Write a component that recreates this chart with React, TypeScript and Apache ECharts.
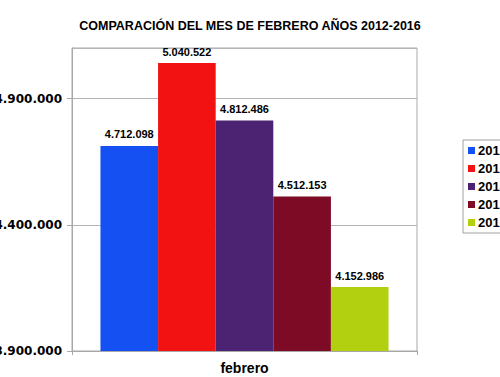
import React, { useEffect, useRef } from "react";
import * as echarts from "echarts";

const titleText = "COMPARACIÓN DEL MES DE FEBRERO AÑOS 2012-2016";
const categories = ["febrero"];
const years = ["2012", "2013", "2014", "2015", "2016"];
const values = [4712098, 5040522, 4812486, 4512153, 4152986];
const colors = ["#1450f2", "#f21212", "#4c2272", "#7e0b26", "#b2cf10"];

function fmt(v: number): string {
  return Math.round(v)
    .toString()
    .replace(/\B(?=(\d{3})+(?!\d))/g, ".");
}

export default function App() {
  const ref = useRef<HTMLDivElement>(null);
  useEffect(() => {
    if (!ref.current) return;
    const chart = echarts.init(ref.current, null, { renderer: "svg" });
    chart.setOption({
      animation: false,
      backgroundColor: "#ffffff",
      title: {
        text: titleText,
        left: "center",
        top: 14,
        textStyle: {
          fontFamily: "Liberation Sans, Arial, sans-serif",
          fontSize: 12.5,
          fontWeight: "bold",
          color: "#000",
        },
      },
      grid: {
        left: 72,
        right: 83,
        top: 48,
        bottom: 26,
        show: true,
        borderColor: "#a8a8a8",
        borderWidth: 1,
        containLabel: false,
        outerBoundsMode: "none",
      },
      legend: {
        orient: "vertical",
        left: 463,
        top: 140,
        padding: [4, 60, 4, 5],
        borderColor: "#a0a0a0",
        borderWidth: 1,
        itemWidth: 7,
        itemHeight: 7,
        itemGap: 5,
        icon: "rect",
        textStyle: {
          fontFamily: "Liberation Sans, Arial, sans-serif",
          fontSize: 13,
          fontWeight: "bold",
          color: "#000",
          padding: [0, 0, 0, -2],
        },
        data: years,
      },
      xAxis: {
        type: "category",
        data: categories,
        axisLine: { lineStyle: { color: "#a8a8a8" } },
        axisTick: { show: true, length: 4, lineStyle: { color: "#a8a8a8" } },
        axisLabel: {
          fontFamily: "Liberation Sans, Arial, sans-serif",
          fontSize: 14,
          fontWeight: "bold",
          color: "#000",
          margin: 10,
        },
      },
      yAxis: {
        type: "value",
        min: 3900000,
        max: 5100000,
        interval: 500000,
        axisLine: { show: true, lineStyle: { color: "#a8a8a8" } },
        axisTick: { show: true, length: 5, lineStyle: { color: "#a8a8a8" } },
        splitLine: { lineStyle: { color: "#b4b4b4" } },
        axisLabel: {
          showMaxLabel: false,
          formatter: (v: number) => fmt(v),
          fontFamily: "DejaVu Sans, Verdana, sans-serif",
          fontSize: 12,
          fontWeight: "bold",
          color: "#000",
          margin: 10,
        },
      },
      series: years.map((y, i) => ({
        name: y,
        type: "bar",
        barGap: "0%",
        barCategoryGap: "16.5%",
        itemStyle: { color: colors[i] },
        label: {
          show: true,
          position: "top",
          distance: 6,
          formatter: (p: any) => fmt(p.value),
          fontFamily: "Liberation Sans, Arial, sans-serif",
          fontSize: 11,
          fontWeight: "bold",
          color: "#000",
        },
        data: [values[i]],
      })),
    });
    return () => chart.dispose();
  }, []);
  return (
    <div
      ref={ref}
      style={{ position: "fixed", left: 0, top: 0, width: 500, height: 377 }}
    />
  );
}
